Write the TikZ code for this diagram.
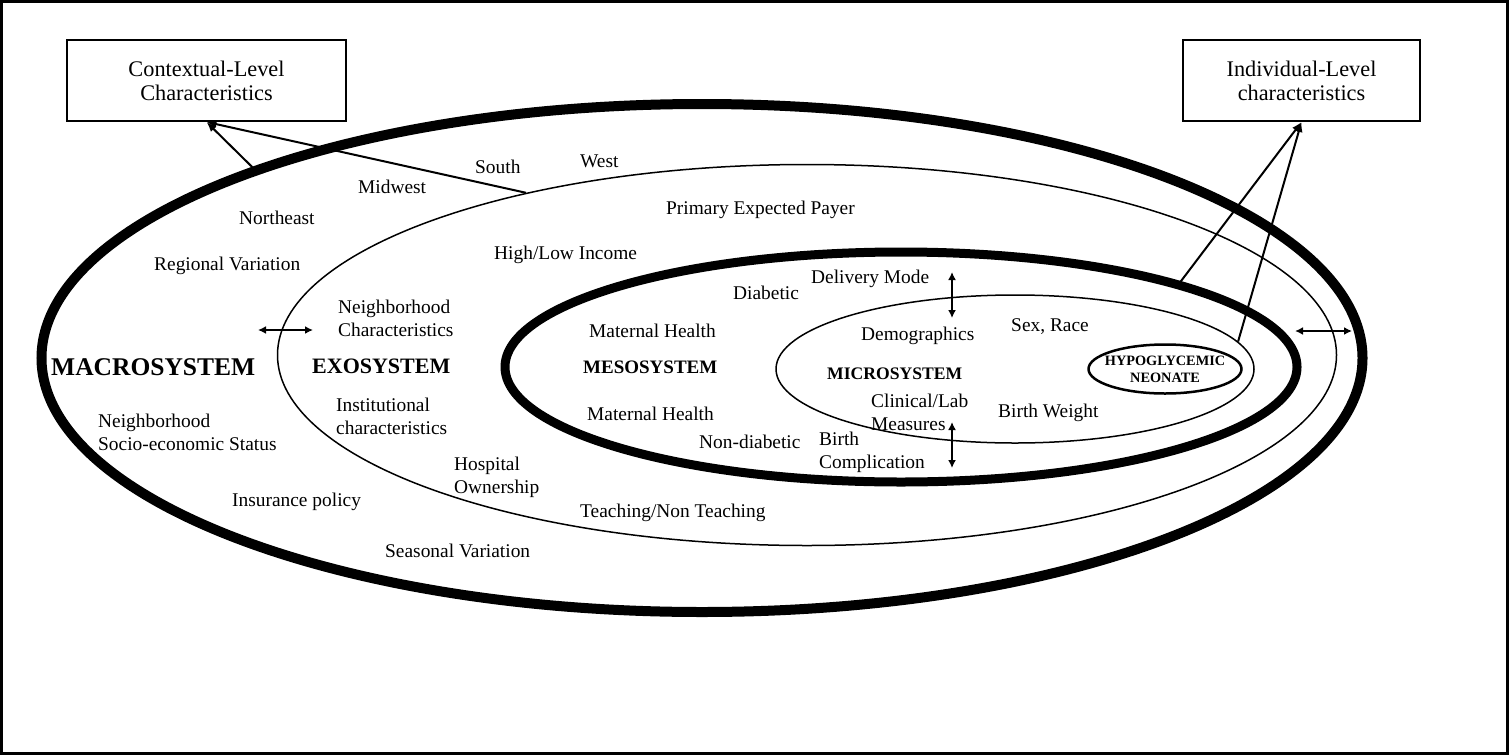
\documentclass[tikz,border=0pt]{standalone}
\usepackage{fontspec}
\setmainfont{Liberation Serif}
\usetikzlibrary{shapes.geometric,arrows.meta,positioning}

\tikzset{
  lbl/.style={font=\fontsize{19.4}{23}\selectfont, inner sep=0pt, anchor=west, align=left},
  sysname/.style={font=\bfseries\fontsize{#1}{#1}\selectfont, inner sep=0pt, anchor=west},
  ring/.style={draw, ellipse, inner sep=0pt},
  levelbox/.style={draw, line width=2pt, inner sep=0pt, align=center, font=\fontsize{22.3}{24}\selectfont},
  toarrow/.style={-{Latex[length=10pt,width=8pt]}, line width=2pt},
  twoway/.style={{Latex[length=8pt,width=8pt]}-{Latex[length=8pt,width=8pt]}, line width=2pt},
}

\begin{document}
\begin{tikzpicture}[x=1pt,y=-1pt]
                    \useasboundingbox (0,0) rectangle (1509,755);
                    \draw[line width=3pt] (1.5,1.5) rectangle (1507.5,753.5);

                    \node[ring, line width=10pt, minimum width=1321pt, minimum height=508pt] (macro) at (702,358) {};
                    \node[ring, line width=1.5pt, minimum width=1059pt, minimum height=381pt] (exo) at (807,355) {};
                    \node[ring, line width=9pt, minimum width=792pt, minimum height=230pt] (meso) at (901,367) {};
                    \node[ring, line width=1.5pt, minimum width=478pt, minimum height=148pt] (micro) at (1015,369) {};
                    \node[ring, line width=2.5pt, minimum width=153pt, minimum height=49pt] (neo) at (1165,369) {};

                    \node[levelbox, minimum width=279pt, minimum height=81pt] (ctx) at (206.5,80.5) {Contextual-Level\\Characteristics};
                    \node[levelbox, minimum width=237pt, minimum height=81pt] (ind) at (1301.5,80.5) {Individual-Level\\characteristics};

                    \node[sysname=25.5] (macroname) at (51,367) {MACROSYSTEM};
                    \node[sysname=22] (exoname) at (312,366) {EXOSYSTEM};
                    \node[sysname=19] (mesoname) at (583,367) {MESOSYSTEM};
                    \node[sysname=17.6] (microname) at (827,374) {MICROSYSTEM};
                    \node[font=\bfseries\fontsize{14.3}{17}\selectfont, inner sep=0pt, align=center] (neoname) at (neo.center) {HYPOGLYCEMIC\\NEONATE};

                    \node[lbl] (south) at (475,167) {South};
                    \node[lbl] (west) at (580,161) {West};
                    \node[lbl] (midwest) at (358,187) {Midwest};
                    \node[lbl] (northeast) at (239,218) {Northeast};
                    \node[lbl] (payer) at (666,210) {Primary Expected Payer};
                    \node[lbl] (regional) at (154,266) {Regional Variation};
                    \node[lbl] (income) at (494,255) {High/Low Income};
                    \node[lbl] (nbhdchar) at (338,318) {Neighborhood\\Characteristics};
                    \node[lbl] (instchar) at (336,416) {Institutional\\characteristics};
                    \node[lbl] (nbhdses) at (98,432) {Neighborhood\\Socio-economic Status};
                    \node[lbl] (ownership) at (454,477) {Hospital\\Ownership};
                    \node[lbl] (insurance) at (232,502) {Insurance policy};
                    \node[lbl] (seasonal) at (385,551) {Seasonal Variation};
                    \node[lbl] (teaching) at (580,513) {Teaching/Non Teaching};
                    \node[lbl] (diabetic) at (733,293) {Diabetic};
                    \node[lbl] (delivery) at (811,279) {Delivery Mode};
                    \node[lbl] (maternalup) at (589,331) {Maternal Health};
                    \node[lbl] (maternallow) at (587,414) {Maternal Health};
                    \node[lbl] (nondiabetic) at (699,442) {Non-diabetic};
                    \node[lbl] (complication) at (819,452) {Birth\\Complication};
                    \node[lbl] (demographics) at (861,336) {Demographics};
                    \node[lbl] (sexrace) at (1011,327) {Sex, Race};
                    \node[lbl] (clinical) at (871,412) {Clinical/Lab\\Measures};
                    \node[lbl] (weight) at (998,413) {Birth Weight};

                    \draw[toarrow] (macro.157) -- (ctx.south);
                    \draw[toarrow] (exo.150) -- (ctx.south);
                    \draw[toarrow] (meso.17) -- (ind.south);
                    \draw[toarrow] (micro.7.5) -- (ind.south);

                    \coordinate (leftw) at (258,330);
                    \coordinate (lefte) at (313,330);
                    \coordinate (rightw) at (1295,331);
                    \coordinate (righte) at (1352,331);
                    \coordinate (topn) at (952,272);
                    \coordinate (tops) at (952,318);
                    \coordinate (botn) at (952,422);
                    \coordinate (bots) at (952,468);
                    \draw[twoway] (leftw) -- (lefte);
                    \draw[twoway] (rightw) -- (righte);
                    \draw[twoway] (topn) -- (tops);
                    \draw[twoway] (botn) -- (bots);
\end{tikzpicture}
\end{document}
